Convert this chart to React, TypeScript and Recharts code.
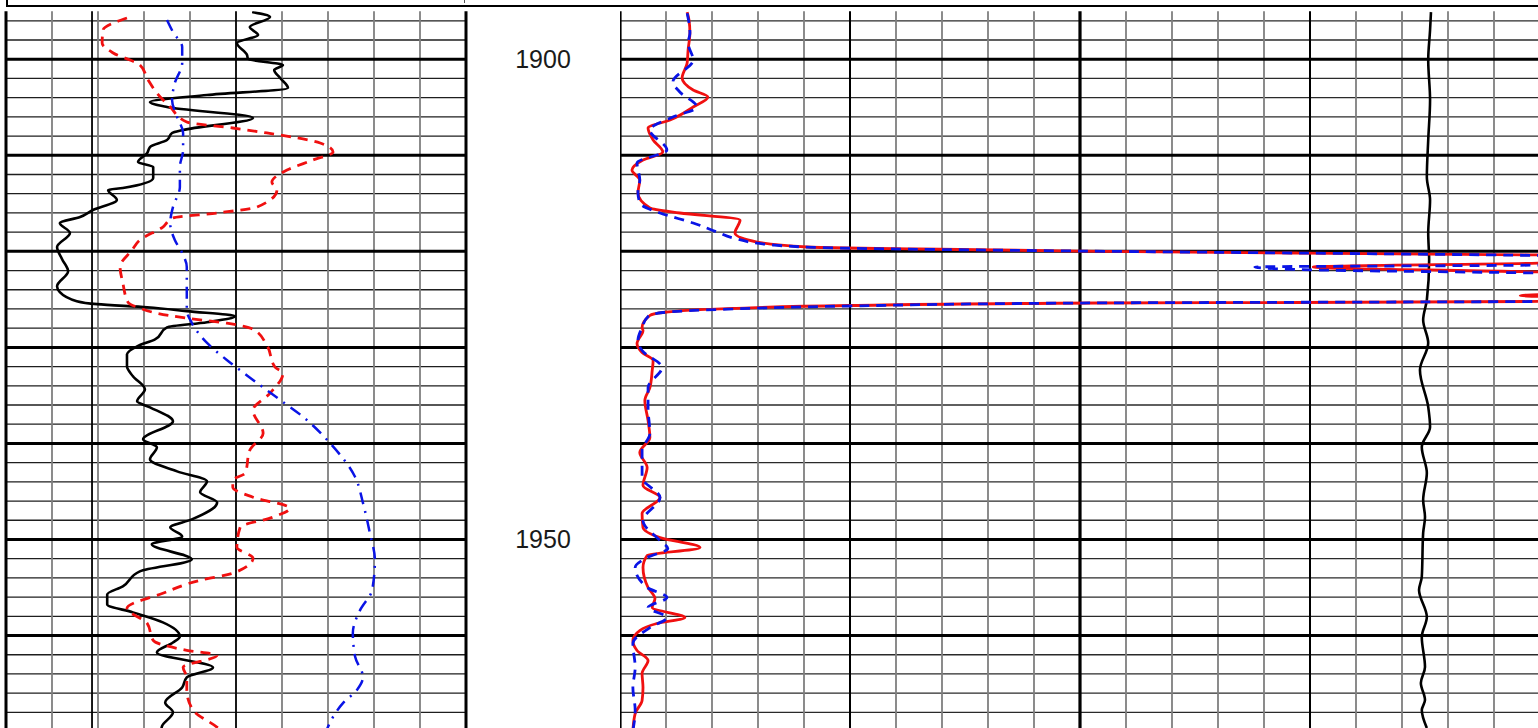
import React from 'react';
import { LineChart, Line, XAxis, YAxis, ReferenceLine } from 'recharts';

// ---- depth axis ----
const DEPTH_DOMAIN: [number, number] = [1895, 1972];
const depthLabels = [1900, 1950];
const minorDepthLines = [
  1896, 1898, 1902, 1904, 1906, 1908, 1912, 1914, 1916, 1918, 1922, 1924, 1926, 1928,
  1932, 1934, 1936, 1938, 1942, 1944, 1946, 1948, 1952, 1954, 1956, 1958, 1962, 1964, 1966, 1968,
];
const majorDepthLines = [1900, 1910, 1920, 1930, 1940, 1950, 1960, 1970];

// ---- left track (0..100) ----
const leftGridLines = [10, 20, 30, 40, 60, 70, 80, 90];
const leftDarkLines = [18.7, 50];
const leftBorders = [0, 100];

// ---- right track (0..200) ----
const rightGridLines = [10, 20, 30, 40, 60, 70, 80, 90, 110, 120, 130, 140, 160, 170, 180, 190];
const rightDarkLines = [50, 150];
const rightBorders = [0, 100];

// [depth, value]
const gammaRay = [
  [1895.09, 53.5], [1895.61, 57.4], [1896.65, 53.0], [1897.48, 54.8], [1898.31, 50.2], [1899.56, 52.4],
  [1899.98, 52.6], [1900.6, 60.2], [1901.12, 58.3], [1901.96, 59.6], [1903.0, 61.3], [1903.73, 43.7],
  [1904.46, 31.3], [1904.98, 35.0], [1906.12, 53.7], [1907.37, 38.5], [1907.68, 36.1], [1908.41, 35.0],
  [1909.14, 31.3], [1909.77, 30.7], [1910.7, 28.7], [1911.22, 32.0], [1912.37, 32.0], [1913.41, 25.4],
  [1913.62, 22.2], [1914.66, 24.1], [1915.7, 18.9], [1916.43, 16.1], [1917.05, 11.7], [1918.09, 13.9],
  [1919.55, 11.1], [1920.82, 12.2], [1922.07, 13.5], [1923.63, 11.1], [1924.26, 11.7], [1925.19, 15.4],
  [1925.5, 19.8], [1925.82, 30.7], [1926.23, 39.3], [1926.76, 49.8], [1927.38, 43.7], [1927.91, 35.0],
  [1929.16, 32.4], [1929.89, 28.5], [1930.72, 26.3], [1931.97, 26.3], [1933.01, 27.6], [1934.37, 30.2],
  [1935.62, 28.5], [1936.24, 31.3], [1937.7, 36.3], [1939.57, 29.8], [1940.41, 32.8], [1941.66, 31.3],
  [1942.91, 37.2], [1943.95, 43.7], [1945.09, 42.2], [1946.14, 45.9], [1947.91, 40.4], [1948.74, 35.7],
  [1949.68, 38.3], [1950.51, 31.7], [1952.07, 40.4], [1953.32, 29.1], [1954.88, 25.4], [1955.72, 22.0],
  [1956.76, 22.0], [1957.59, 27.6], [1958.63, 34.1], [1960.09, 37.8], [1960.72, 36.3], [1961.76, 32.8],
  [1963.32, 45.0], [1964.36, 39.3], [1965.4, 38.3], [1966.96, 34.6], [1968.0, 36.3], [1969.46, 33.9],
  [1970.9, 33.5],
];

const neutron = [
  [1895.71, 26.3], [1896.96, 21.1], [1898.31, 20.9], [1899.35, 23.3], [1900.6, 29.1], [1902.17, 30.9],
  [1903.52, 32.8], [1904.98, 35.7], [1906.54, 39.3], [1907.16, 49.3], [1907.68, 56.7], [1908.72, 68.3],
  [1909.66, 71.1], [1910.5, 66.7], [1911.54, 61.1], [1912.79, 57.8], [1913.62, 58.9], [1915.39, 54.6],
  [1916.01, 45.9], [1916.53, 36.3], [1917.47, 34.1], [1918.82, 29.1], [1919.86, 27.4], [1921.63, 24.8],
  [1923.3, 25.4], [1925.28, 26.5], [1925.92, 29.1], [1926.44, 32.8], [1926.96, 39.3], [1927.48, 48.0],
  [1928.11, 53.7], [1929.77, 56.7], [1932.07, 58.5], [1932.69, 60.2], [1934.77, 57.4], [1936.54, 53.7],
  [1938.94, 55.9], [1940.71, 53.0], [1943.1, 52.0], [1943.83, 49.3], [1944.56, 49.3], [1945.6, 53.7],
  [1946.75, 61.7], [1947.68, 58.0], [1948.73, 50.9], [1950.81, 50.2], [1951.95, 53.7], [1953.52, 49.3],
  [1954.25, 42.2], [1955.6, 34.1], [1957.16, 26.3], [1958.73, 30.7], [1960.5, 32.0], [1961.54, 39.3],
  [1962.06, 45.9], [1963.31, 38.5], [1964.35, 39.3], [1965.71, 39.3], [1967.79, 40.7], [1969.56, 45.9],
  [1970.9, 48.7],
];

const density = [
  [1895.92, 35.0], [1897.17, 36.3], [1898.73, 38.3], [1900.4, 38.3], [1902.48, 36.7], [1904.25, 36.1],
  [1906.02, 37.2], [1907.68, 38.5], [1909.45, 38.5], [1911.22, 37.8], [1913.31, 37.8], [1915.39, 36.3],
  [1917.05, 35.7], [1918.82, 36.7], [1920.18, 38.3], [1921.63, 39.3], [1923.71, 39.3], [1926.11, 39.3],
  [1927.46, 40.4], [1929.54, 43.7], [1931.31, 48.0], [1933.39, 53.7], [1935.47, 59.6], [1937.24, 64.6],
  [1939.95, 70.4], [1943.49, 75.9], [1946.19, 77.6], [1949.32, 79.1], [1952.13, 80.2], [1955.25, 79.6],
  [1957.33, 77.0], [1959.73, 75.4], [1962.22, 75.9], [1964.31, 77.6], [1965.66, 76.3], [1967.02, 73.3],
  [1968.47, 71.1], [1970.35, 69.3],
];

const deepRes = [
  [1895.09, 14.6], [1895.92, 15.0], [1897.27, 15.2], [1899.04, 14.8], [1900.4, 14.6], [1901.96, 13.5],
  [1903.21, 15.9], [1903.94, 19.1], [1904.98, 15.9], [1906.33, 10.9], [1907.16, 6.1], [1908.41, 7.2],
  [1909.66, 9.3], [1910.5, 5.0], [1911.54, 2.6], [1912.58, 4.3], [1913.93, 3.9], [1915.49, 6.5],
  [1916.01, 13.0], [1916.74, 26.1], [1918.09, 25.0], [1919.03, 29.8], [1919.55, 40.7], [1919.76, 65.2],
  [1919.97, 99.8], [1920.18, 147.8], [1920.38, 199.6], [1920.7, 230], [1921.22, 199.6], [1921.63, 150.7],
  [1922.15, 199.6], [1922.5, 230], [1924.2, 230], [1924.6, 195.7], [1925.0, 230], [1925.22, 199.6],
  [1925.33, 147.8], [1925.38, 104.3], [1925.64, 50.0], [1925.95, 24.6], [1926.37, 9.3], [1926.68, 6.5],
  [1927.93, 4.8], [1928.24, 5.0], [1929.6, 3.7], [1930.53, 4.8], [1931.37, 7.2], [1932.41, 7.0],
  [1934.18, 6.5], [1935.53, 5.4], [1937.62, 6.1], [1939.39, 6.5], [1940.95, 4.3], [1942.51, 5.9],
  [1944.39, 5.0], [1945.64, 8.7], [1947.3, 4.8], [1948.76, 5.0], [1949.8, 8.7], [1950.84, 17.4],
  [1951.67, 5.9], [1952.92, 5.0], [1955.0, 6.1], [1956.15, 7.6], [1957.08, 7.0], [1958.13, 14.1],
  [1958.75, 8.0], [1959.48, 4.3], [1960.52, 2.8], [1961.56, 3.7], [1962.6, 6.1], [1963.95, 4.8],
  [1965.41, 5.0], [1966.76, 4.8], [1968.12, 3.3], [1969.9, 2.8],
];

const shallowRes = [
  [1895.21, 14.6], [1897.27, 15.2], [1898.31, 14.8], [1900.08, 15.9], [1902.37, 11.5], [1903.41, 13.0],
  [1904.98, 16.7], [1906.02, 11.5], [1907.37, 6.5], [1909.45, 10.2], [1910.81, 3.7], [1912.58, 4.3],
  [1913.83, 3.9], [1914.97, 4.3], [1916.01, 8.7], [1917.05, 15.9], [1917.99, 21.1], [1918.61, 24.6],
  [1919.34, 33.3], [1919.66, 47.8], [1919.97, 99.8], [1920.18, 147.8], [1920.43, 199.6], [1920.8, 230],
  [1921.43, 199.6], [1921.63, 138.0], [1921.95, 152.6], [1922.26, 199.6], [1922.6, 230], [1924.9, 230],
  [1925.22, 199.6], [1925.37, 104.3], [1925.69, 50.0], [1926.0, 24.6], [1926.37, 9.3], [1926.78, 6.1],
  [1927.93, 4.8], [1929.29, 3.9], [1930.33, 4.8], [1932.1, 9.1], [1934.18, 6.1], [1936.26, 6.1],
  [1938.97, 6.5], [1940.74, 4.8], [1943.55, 4.8], [1945.64, 8.7], [1948.03, 5.0], [1950.12, 8.7],
  [1950.95, 10.4], [1951.88, 5.9], [1952.92, 3.3], [1955.0, 5.9], [1956.04, 10.2], [1957.08, 6.1],
  [1958.13, 10.2], [1959.17, 6.5], [1960.83, 2.8], [1963.33, 3.3], [1965.41, 2.8], [1967.8, 3.3],
  [1969.9, 2.8],
];

const caliper = [
  [1895.09, 176.3], [1896.96, 176.1], [1900.08, 175.7], [1904.25, 176.1], [1908.41, 175.7], [1912.27, 175.4],
  [1914.66, 176.1], [1918.09, 175.7], [1920.91, 175.9], [1925.07, 175.4], [1927.15, 174.6], [1929.54, 175.7],
  [1932.35, 173.9], [1936.2, 175.7], [1938.29, 176.1], [1940.37, 174.3], [1943.08, 175.4], [1945.89, 174.6],
  [1947.66, 175.0], [1949.32, 174.6], [1953.91, 174.3], [1955.26, 173.7], [1958.07, 175.4], [1960.16, 174.3],
  [1963.28, 175.0], [1964.95, 174.1], [1966.72, 175.0], [1967.76, 174.3], [1969.63, 175.4],
];

const toRows = (pairs: number[][]) => pairs.map(([depth, v]) => ({ depth, v }));

const FONT = "'Liberation Sans', Arial, Helvetica, sans-serif";

const DepthTick = (props: any) => {
  const { x, y, payload } = props;
  return (
    <text x={x + 77} y={y} dy={9} textAnchor="middle" fontSize={25} fontFamily={FONT} fill="#1a1a1a">
      {payload.value}
    </text>
  );
};

const MARGIN_TOP = 11.2;
const CHART_H = 760;
const PLOT_H = (DEPTH_DOMAIN[1] - DEPTH_DOMAIN[0]) * 9.605;
const MARGIN_BOTTOM = CHART_H - MARGIN_TOP - PLOT_H;

const vLines = (vals: number[], prefix: string, stroke: string, width: number) =>
  vals.map((v) => <ReferenceLine key={prefix + v} yAxisId="d" x={v} stroke={stroke} strokeWidth={width} />);
const hLines = (vals: number[], prefix: string, stroke: string, width: number) =>
  vals.map((d) => <ReferenceLine key={prefix + d} yAxisId="d" y={d} stroke={stroke} strokeWidth={width} />);

export default function App() {
  return (
    <div style={{ position: 'fixed', left: 0, top: 0, width: 1538, height: 728, overflow: 'hidden', background: '#fff' }}>
      {/* header box edge */}
      <div style={{ position: 'absolute', left: 6, top: -3, width: 1560, height: 8, borderLeft: '2.5px solid #000', borderBottom: '2.5px solid #000' }} />
      <div style={{ position: 'absolute', left: 464, top: 0, width: 1, height: 3, background: '#555' }} />

      {/* left track + depth track */}
      <div style={{ position: 'absolute', left: 0, top: 0 }}>
        <LineChart width={620} height={CHART_H} layout="vertical" margin={{ top: MARGIN_TOP, right: 0, bottom: MARGIN_BOTTOM, left: 6 }}>
          <XAxis type="number" domain={[0, 100]} hide allowDataOverflow />
          <YAxis yAxisId="d" type="number" dataKey="depth" domain={DEPTH_DOMAIN} hide allowDataOverflow />
          <YAxis yAxisId="lab" orientation="right" width={154} type="number" dataKey="depth" domain={DEPTH_DOMAIN}
            ticks={depthLabels} interval={0} axisLine={false} tickLine={false} tickSize={0} tickMargin={0} tick={<DepthTick />} allowDataOverflow />
          {hLines(minorDepthLines, 'lh', '#1e1e1e', 1.3)}
          {vLines(leftGridLines, 'lg', '#7f7f7f', 1.8)}
          {vLines(leftDarkLines, 'ld', '#000', 1.8)}
          {hLines(majorDepthLines, 'lH', '#000', 3)}
          {vLines(leftBorders, 'lb', '#000', 3)}
          <Line yAxisId="d" data={toRows(gammaRay)} dataKey="v" type="monotone" stroke="#000" strokeWidth={2.6} dot={false} activeDot={false} isAnimationActive={false} />
          <Line yAxisId="d" data={toRows(neutron)} dataKey="v" type="monotone" stroke="#f01010" strokeWidth={2.8} strokeDasharray="10 7" dot={false} activeDot={false} isAnimationActive={false} />
          <Line yAxisId="d" data={toRows(density)} dataKey="v" type="monotone" stroke="#0a14e6" strokeWidth={2.5} strokeDasharray="12 7 2 7" dot={false} activeDot={false} isAnimationActive={false} />
        </LineChart>
      </div>

      {/* right track */}
      <div style={{ position: 'absolute', left: 620, top: 0 }}>
        <LineChart width={920} height={CHART_H} layout="vertical" margin={{ top: MARGIN_TOP, right: 0, bottom: MARGIN_BOTTOM, left: 0 }}>
          <XAxis type="number" domain={[0, 200]} hide allowDataOverflow />
          <YAxis yAxisId="d" type="number" dataKey="depth" domain={DEPTH_DOMAIN} hide allowDataOverflow />
          {hLines(minorDepthLines, 'rh', '#2a2a2a', 1.3)}
          {vLines(rightGridLines, 'rg', '#7f7f7f', 1.8)}
          {vLines(rightDarkLines, 'rd', '#000', 2)}
          {hLines(majorDepthLines, 'rH', '#000', 3)}
          {vLines(rightBorders, 'rb', '#000', 3.2)}
          <Line yAxisId="d" data={toRows(caliper)} dataKey="v" type="monotone" stroke="#000" strokeWidth={2.6} dot={false} activeDot={false} isAnimationActive={false} />
          <Line yAxisId="d" data={toRows(deepRes)} dataKey="v" type="monotone" stroke="#f01010" strokeWidth={2.8} dot={false} activeDot={false} isAnimationActive={false} />
          <Line yAxisId="d" data={toRows(shallowRes)} dataKey="v" type="monotone" stroke="#0a14e6" strokeWidth={2.8} strokeDasharray="10 7" dot={false} activeDot={false} isAnimationActive={false} />
        </LineChart>
      </div>
    </div>
  );
}
